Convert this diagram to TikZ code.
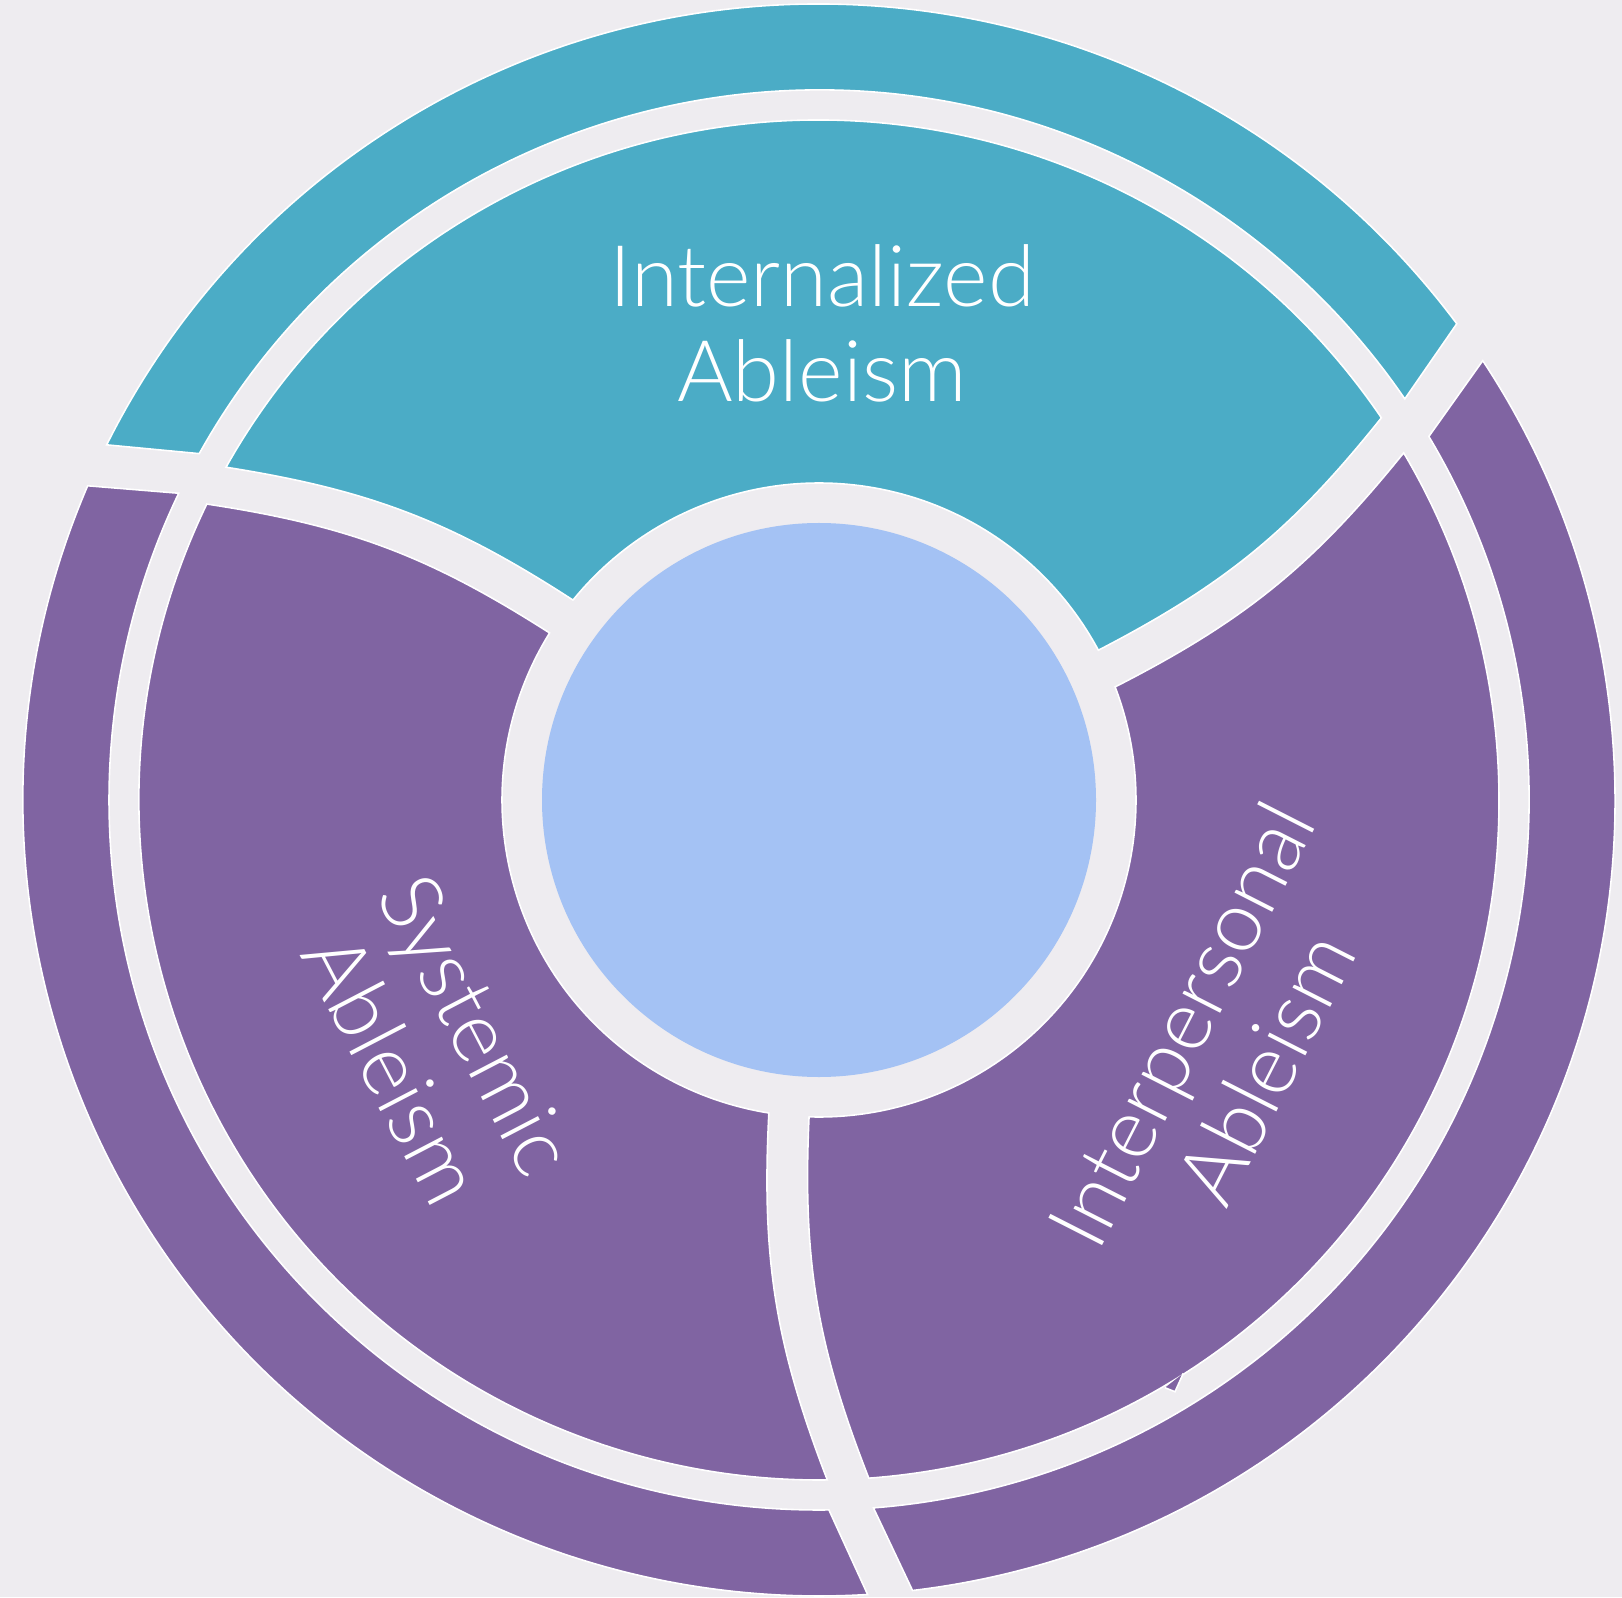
\documentclass[tikz,border=0pt]{standalone}
\usepackage{fontspec}
\setmainfont{Lato}[UprightFont=* Light]
\definecolor{paper}{HTML}{EEECF0}
\definecolor{ringteal}{HTML}{4BACC6}
\definecolor{ringpurple}{HTML}{8064A2}
\definecolor{hubblue}{HTML}{A4C2F4}
\tikzset{
  segment/.style = {draw = white, line width = .45pt},
  ringtext/.style = {text = white, align = center, inner sep = 0pt,
    font = \fontsize{24.2}{27}\selectfont}
}
\begin{document}
\begin{tikzpicture}[x = .01cm, y = .01cm]
    \useasboundingbox (-819,-797) rectangle (803,800);
    \fill[paper] (-819,-797) rectangle (803,800);
    % hub
    \fill[hubblue] (0,0) circle [radius = 277];
    % inner ring, cut into three blades
    \filldraw[segment, fill = ringpurple] (-91.8:317) to[bend right = 12] (-85.8:680)
      arc [start angle = -85.8, end angle = 30.7, radius = 680]
      to[bend left = 12] (20.9:317) arc [start angle = 20.9, end angle = -91.8, radius = 317] -- cycle;
    \filldraw[segment, fill = ringteal] (28.2:317) to[bend right = 12] (34.2:680)
      arc [start angle = 34.2, end angle = 150.7, radius = 680]
      to[bend left = 12] (140.9:317) arc [start angle = 140.9, end angle = 28.2, radius = 317] -- cycle;
    \filldraw[segment, fill = ringpurple] (148.2:317) to[bend right = 12] (154.2:680)
      arc [start angle = 154.2, end angle = 270.7, radius = 680]
      to[bend left = 12] (260.9:317) arc [start angle = 260.9, end angle = 148.2, radius = 317] -- cycle;
    % small burr on the right blade
    \filldraw[segment, fill = ringpurple] (346,-587.7) -- (356,-591.7) -- (364.3,-573.3);
    % outer ring
    \filldraw[segment, fill = ringpurple] (-85.6:710) -- (-83.25:796)
      arc [start angle = -83.25, end angle = 33.5, radius = 796]
      -- (30.8:710) arc [start angle = 30.8, end angle = -85.6, radius = 710] -- cycle;
    \filldraw[segment, fill = ringteal] (34.4:710) -- (36.75:796)
      arc [start angle = 36.75, end angle = 153.5, radius = 796]
      -- (150.8:710) arc [start angle = 150.8, end angle = 34.4, radius = 710] -- cycle;
    \filldraw[segment, fill = ringpurple] (154.4:710) -- (156.75:796)
      arc [start angle = 156.75, end angle = 273.5, radius = 796]
      -- (270.8:710) arc [start angle = 270.8, end angle = 154.4, radius = 710] -- cycle;
    % labels
    \node[ringtext] (internal) at (3,477) {Internalized\\Ableism};
    \node[ringtext, rotate = -62.5] (systemic) at (-384,-247) {Systemic\\Ableism};
    \node[ringtext, rotate = 63] (interpersonal) at (404,-246) {Interpersonal\\Ableism};
\end{tikzpicture}
\end{document}
